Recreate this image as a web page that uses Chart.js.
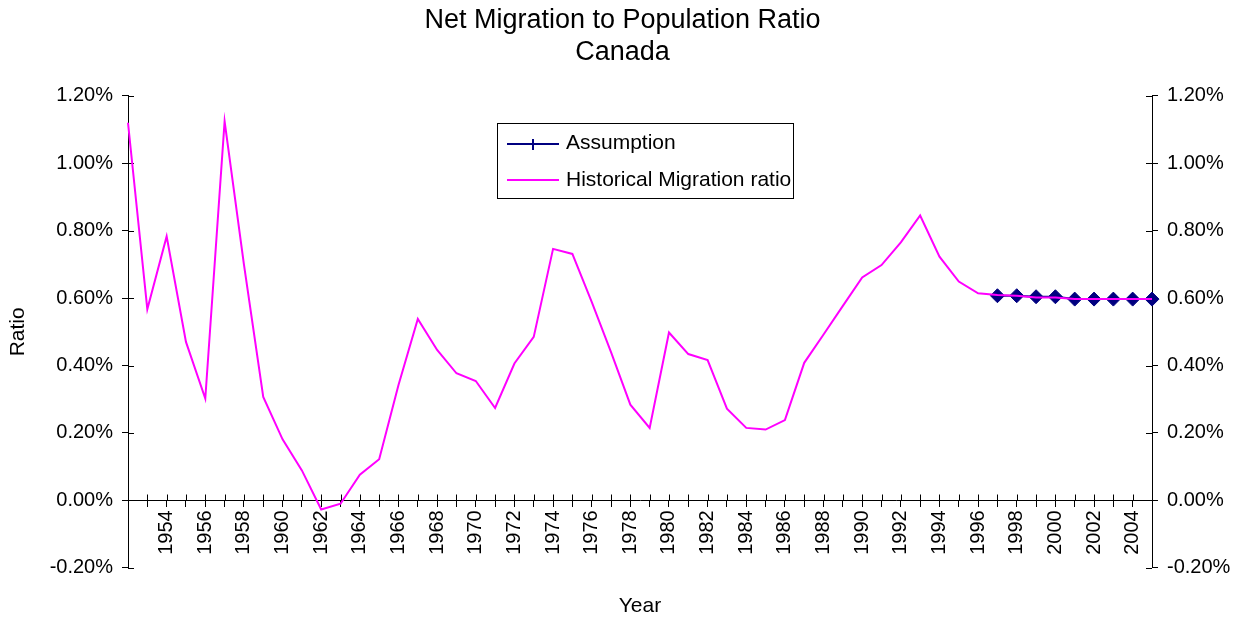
<!DOCTYPE html>
<html>
<head>
<meta charset="utf-8">
<script src="https://cdn.jsdelivr.net/npm/chart.js@4/dist/chart.umd.min.js"></script>
<style>
  html, body { margin: 0; padding: 0; background: #fff; }
  #contenedor { width: 1245px; height: 619px; }
</style>
</head>
<body>
<div id="contenedor"><canvas id="graficaMigracion"></canvas></div>
<script>
var colorMagenta = "#ff00ff";
var colorAzul = "#000080";
var colorNegro = "#000";
var fuente = "'Liberation Sans', Arial, sans-serif";

var anios = [
    '1952', '1953', '1954', '1955', '1956', '1957', '1958', '1959', '1960', '1961',
    '1962', '1963', '1964', '1965', '1966', '1967', '1968', '1969', '1970', '1971',
    '1972', '1973', '1974', '1975', '1976', '1977', '1978', '1979', '1980', '1981',
    '1982', '1983', '1984', '1985', '1986', '1987', '1988', '1989', '1990', '1991',
    '1992', '1993', '1994', '1995', '1996', '1997', '1998', '1999', '2000', '2001',
    '2002', '2003', '2004', '2005'
];

// ratio en %, valores historicos
var historico = [
    1.120, 0.567, 0.783, 0.470, 0.302, 1.124, 0.700, 0.307, 0.181, 0.089,
    -0.027, -0.010, 0.076, 0.122, 0.342, 0.538, 0.446, 0.377, 0.354, 0.274,
    0.406, 0.485, 0.746, 0.731, 0.589, 0.440, 0.284, 0.215, 0.498, 0.434,
    0.416, 0.272, 0.215, 0.210, 0.238, 0.408, 0.492, 0.577, 0.661, 0.698,
    0.765, 0.845, 0.723, 0.649, 0.614, 0.609, 0.607, 0.602, 0.602, 0.597,
    0.597, 0.597, 0.597, 0.597
];

// supuesto desde 1997
var supuesto = [
    null, null, null, null, null, null, null, null, null, null,
    null, null, null, null, null, null, null, null, null, null,
    null, null, null, null, null, null, null, null, null, null,
    null, null, null, null, null, null, null, null, null, null,
    null, null, null, null, null, 0.607, 0.607, 0.604, 0.604, 0.597,
    0.597, 0.597, 0.597, 0.597
];

var ejeMin = -0.2;
var ejeMax = 1.2;
var ejePaso = 0.2;

function formatoPorcentaje(v) {
    if (Math.abs(v) < 1e-9) v = 0;
    return v.toFixed(2) + '%';
}

// marcas que cruzan los ejes (Chart.js solo las dibuja por fuera)
var marcasCruzadas = {
    id: 'marcasCruzadas',
    beforeDatasetsDraw: function (chart) {
        var ctx = chart.ctx;
        var area = chart.chartArea;
        var ejeY = chart.scales.y;
        var ejeX = chart.scales.x;
        ctx.save();
        ctx.strokeStyle = colorNegro;
        ctx.lineWidth = 1;
        ctx.beginPath();
        ejeY.ticks.forEach(function (t, i) {
            var py = Math.round(ejeY.getPixelForTick(i)) + 0.5;
            ctx.moveTo(area.left, py);
            ctx.lineTo(area.left + 6, py);
            ctx.moveTo(area.right - 6, py);
            ctx.lineTo(area.right, py);
        });
        var cero = Math.round(ejeY.getPixelForValue(0)) + 0.5;
        ejeX.ticks.forEach(function (t, i) {
            var px = Math.round(ejeX.getPixelForTick(i)) + 0.5;
            ctx.moveTo(px, cero - 6);
            ctx.lineTo(px, cero);
        });
        ctx.stroke();
        ctx.restore();
    }
};

// leyenda con recuadro dentro del area del grafico
var leyendaCaja = {
    id: 'leyendaCaja',
    afterDraw: function (chart) {
        var ctx = chart.ctx;
        var sets = chart.data.datasets;
        var x = 497, y = 123, w = 296, h = 75;
        ctx.save();
        ctx.fillStyle = '#fff';
        ctx.fillRect(x, y, w, h);
        ctx.strokeStyle = colorNegro;
        ctx.lineWidth = 1;
        ctx.strokeRect(x + 0.5, y + 0.5, w, h);

        ctx.font = '21px ' + fuente;
        ctx.textBaseline = 'middle';
        ctx.fillStyle = colorNegro;

        // Assumption
        ctx.strokeStyle = colorAzul;
        ctx.lineWidth = 2;
        ctx.beginPath();
        ctx.moveTo(507, 144);
        ctx.lineTo(559, 144);
        ctx.moveTo(533, 139);
        ctx.lineTo(533, 150);
        ctx.stroke();
        ctx.fillText(sets[0].label, 566, 143);

        // Historical
        ctx.strokeStyle = colorMagenta;
        ctx.beginPath();
        ctx.moveTo(507, 180);
        ctx.lineTo(559, 180);
        ctx.stroke();
        ctx.fillText(sets[1].label, 566, 180);
        ctx.restore();
    }
};

var datosGrafica = {
    labels: anios,
    datasets: [{
        label: 'Assumption',
        data: supuesto,
        yAxisID: 'y',
        order: 1,
        borderColor: colorAzul,
        backgroundColor: colorAzul,
        borderWidth: 2,
        pointStyle: 'rectRot',
        pointRadius: 7,
        pointBorderWidth: 1,
        pointBackgroundColor: colorAzul,
        pointBorderColor: colorAzul
    }, {
        label: 'Historical Migration ratio',
        data: historico,
        yAxisID: 'y',
        order: 0,
        borderColor: colorMagenta,
        backgroundColor: colorMagenta,
        borderWidth: 2,
        pointRadius: 0,
        tension: 0
    }]
};

var configuracion = {
    type: 'line',
    data: datosGrafica,
    options: {
        responsive: true,
        maintainAspectRatio: false,
        animation: false,
        layout: { padding: 0 },
        plugins: {
            legend: { display: false },
            tooltip: { enabled: false },
            title: {
                display: true,
                text: ['Net Migration to Population Ratio', 'Canada'],
                color: colorNegro,
                font: { family: fuente, size: 27, weight: 'normal' },
                padding: { top: 4, bottom: 27 }
            },
            subtitle: {
                display: true,
                text: 'Year',
                position: 'bottom',
                fullSize: false,
                color: colorNegro,
                font: { family: fuente, size: 21, weight: 'normal' },
                padding: { top: 26, bottom: 0 }
            }
        },
        scales: {
            x: {
                position: { y: 0 },
                offset: false,
                grid: { drawOnChartArea: false, tickLength: 6, color: colorNegro },
                border: { color: colorNegro },
                ticks: {
                    autoSkip: false,
                    minRotation: 90,
                    maxRotation: 90,
                    padding: 4,
                    color: colorNegro,
                    font: { family: fuente, size: 20 },
                    callback: function (valor) {
                        var anio = this.getLabelForValue(valor);
                        return (Number(anio) % 2 === 0 && Number(anio) >= 1954) ? anio : '';
                    }
                },
                afterFit: function (escala) { escala.height = 0; }
            },
            y: {
                position: 'left',
                min: ejeMin,
                max: ejeMax,
                grid: { drawOnChartArea: false, tickLength: 6, color: colorNegro },
                border: { color: colorNegro },
                ticks: {
                    stepSize: ejePaso,
                    padding: 9,
                    color: colorNegro,
                    font: { family: fuente, size: 20 },
                    callback: formatoPorcentaje
                },
                title: {
                    display: true,
                    text: 'Ratio',
                    color: colorNegro,
                    font: { family: fuente, size: 21 },
                    padding: { top: 6, bottom: 0 }
                },
                afterFit: function (escala) { escala.width = 128; }
            },
            y2: {
                position: 'right',
                min: ejeMin,
                max: ejeMax,
                grid: { drawOnChartArea: false, tickLength: 6, color: colorNegro },
                border: { color: colorNegro },
                ticks: {
                    stepSize: ejePaso,
                    padding: 9,
                    color: colorNegro,
                    font: { family: fuente, size: 20 },
                    callback: formatoPorcentaje
                },
                afterFit: function (escala) { escala.width = 93; }
            }
        }
    },
    plugins: [marcasCruzadas, leyendaCaja]
};

var graficaMigracion = new Chart(
    document.getElementById('graficaMigracion'),
    configuracion
);
</script>
</body>
</html>
